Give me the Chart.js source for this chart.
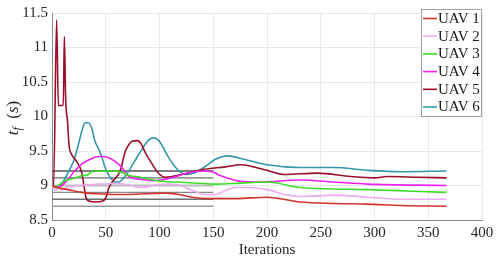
<!DOCTYPE html>
<html>
<head>
<meta charset="utf-8">
<script src="https://cdn.jsdelivr.net/npm/chart.js@4/dist/chart.umd.min.js"></script>
<style>
  html, body { margin: 0; padding: 0; background: #fff; }
  canvas { display: block; }
</style>
</head>
<body>
<canvas id="myChart" width="502" height="262"></canvas>
<script>
// data
const seriesNames = ["UAV 1", "UAV 2", "UAV 3", "UAV 4", "UAV 5", "UAV 6"];

const uav1X = [0, 2.8, 15, 27.6, 43, 58.7, 71, 87, 105.6, 118, 130.5, 146, 171, 200, 231, 262.5, 293.5, 324.6, 367];
const uav1Y = [9.0, 8.98, 8.94, 8.90, 8.88, 8.87, 8.87, 8.88, 8.89, 8.87, 8.83, 8.81, 8.81, 8.83, 8.76, 8.74, 8.73, 8.71, 8.70];

const uav2X = [0, 3, 6, 9, 15, 27.6, 43, 58.7, 71, 82, 97.9, 108.7, 119.6, 130.5, 143, 152, 163, 171, 181.7, 200, 219, 231, 262.5, 293.5, 324.6, 367];
const uav2Y = [9.0, 8.93, 8.97, 8.94, 8.98, 9.0, 9.02, 9.03, 9.01, 8.97, 9.01, 9.02, 9.0, 8.93, 8.87, 8.87, 8.94, 8.97, 8.97, 8.94, 8.86, 8.84, 8.86, 8.83, 8.80, 8.80];

const uav3X = [0, 2.8, 12, 21, 27.6, 33.8, 37, 46, 55.6, 65, 71, 82.3, 97.9, 129, 150, 169, 200, 231, 262, 293.5, 367];
const uav3Y = [9.0, 8.98, 9.07, 9.11, 9.14, 9.16, 9.2, 9.21, 9.21, 9.19, 9.15, 9.12, 9.07, 9.04, 9.02, 9.03, 9.05, 8.97, 8.95, 8.94, 8.90];

const uav4X = [0, 2.8, 9, 15, 21, 27.6, 35.4, 43, 48, 55.6, 61.8, 66.4, 70, 82.3, 94.7, 113, 125.8, 140, 149, 157, 175.5, 194, 231, 262.5, 293.5, 367];
const uav4Y = [9.0, 8.97, 9.0, 9.09, 9.21, 9.31, 9.38, 9.42, 9.42, 9.38, 9.31, 9.24, 9.15, 9.09, 9.07, 9.12, 9.18, 9.21, 9.20, 9.14, 9.06, 9.05, 9.08, 9.05, 9.02, 9.0];

const uav5X = [0, 1.5, 4.3, 5.9, 10.5, 11.5, 12.7, 14.5, 15.8, 18.3, 21.4, 24.5, 27.6, 29, 30.7, 32, 35.4, 40, 47.8, 51, 52.5, 57, 63.4, 68.3, 71.4, 74.5, 79.2, 82.3, 87, 93.2, 99.4, 105.6, 111.8, 124, 139.8, 161.5, 175.5, 185, 200, 216, 247, 278, 300, 312, 340, 367];
const uav5Y = [9.0, 9.0, 11.4, 10.16, 10.16, 11.16, 10.26, 9.92, 9.59, 9.45, 9.38, 9.31, 9.19, 9.07, 8.90, 8.81, 8.77, 8.76, 8.78, 8.86, 8.95, 9.07, 9.21, 9.5, 9.59, 9.64, 9.65, 9.62, 9.47, 9.31, 9.17, 9.12, 9.13, 9.17, 9.23, 9.27, 9.30, 9.28, 9.22, 9.16, 9.18, 9.13, 9.11, 9.13, 9.12, 9.11];

const uav6X = [0, 4.3, 9, 15, 20, 24.5, 27.6, 30.7, 33.8, 37, 40, 43, 46, 49.4, 54, 58.7, 62, 68.3, 80.7, 90, 94.7, 99.4, 108.7, 118, 125.8, 133.5, 143, 152, 163, 178.6, 200, 231, 262, 293.5, 324.6, 367];
const uav6Y = [9.0, 8.98, 9.02, 9.19, 9.35, 9.59, 9.78, 9.91, 9.91, 9.83, 9.64, 9.54, 9.43, 9.26, 9.12, 9.05, 9.05, 9.14, 9.45, 9.66, 9.69, 9.65, 9.40, 9.21, 9.16, 9.19, 9.28, 9.38, 9.43, 9.38, 9.30, 9.26, 9.26, 9.22, 9.20, 9.21];

// reference levels (gray lines)
const refX = [0, 150];
const refLevels = [9.21, 9.11, 9.0, 8.9, 8.8, 8.7];

const xTicks = [0, 50, 100, 150, 200, 250, 300, 350, 400];
const yTicks = [8.5, 9, 9.5, 10, 10.5, 11, 11.5];

const seriesX = [uav1X, uav2X, uav3X, uav4X, uav5X, uav6X];
const seriesY = [uav1Y, uav2Y, uav3Y, uav4Y, uav5Y, uav6Y];
const colors = ["#d0352c", "#eeaaf0", "#3ddc2a", "#ee22ee", "#9a0f2a", "#3596aa"];
const refColors = ["#555555", "#6f6f6f", "#bbbbbb", "#8a8a8a", "#707070", "#999999"];

const FONT = "'Liberation Serif', 'DejaVu Serif', serif";

const datasets = [];
seriesNames.forEach((name, i) => {
  datasets.push({
    label: name,
    data: seriesX[i].map((x, k) => ({ x: x, y: seriesY[i][k] })),
    borderColor: colors[i],
    borderWidth: 1.6,
    pointRadius: 0,
    cubicInterpolationMode: "monotone",
    fill: false
  });
});
refLevels.forEach((v, i) => {
  datasets.push({
    label: "ref" + i,
    data: refX.map(x => ({ x: x, y: v })),
    borderColor: refColors[i],
    borderWidth: i === 2 ? 2 : 1.4,
    pointRadius: 0,
    fill: false,
    order: 10
  });
});

// y title t_f (s) with subscript, drawn as text
const yTitlePlugin = {
  id: "yTitle",
  afterDraw(chart) {
    const ctx = chart.ctx;
    ctx.save();
    ctx.translate(14, 118);
    ctx.rotate(-Math.PI / 2);
    ctx.fillStyle = "#262626";
    ctx.textBaseline = "middle";
    const parts = [
      { t: "t", f: "italic 17px " + FONT, dy: 0 },
      { t: "f", f: "italic 12px " + FONT, dy: 4 },
      { t: "  (", f: "17px " + FONT, dy: 0 },
      { t: "s", f: "italic 17px " + FONT, dy: 0 },
      { t: ")", f: "17px " + FONT, dy: 0 }
    ];
    let w = 0;
    parts.forEach(p => { ctx.font = p.f; w += ctx.measureText(p.t).width; });
    let x = -w / 2;
    parts.forEach(p => {
      ctx.font = p.f;
      ctx.textAlign = "left";
      ctx.fillText(p.t, x, p.dy);
      x += ctx.measureText(p.t).width;
    });
    ctx.restore();
  }
};

// legend box inside the plot, top right
const boxLegendPlugin = {
  id: "boxLegend",
  afterDraw(chart) {
    const ctx = chart.ctx;
    const left = 421.5, top = 9.5, right = 481.5, bottom = 116.5;
    ctx.save();
    ctx.fillStyle = "#ffffff";
    ctx.fillRect(left, top, right - left, bottom - top);
    ctx.strokeStyle = "#a0a0a0";
    ctx.lineWidth = 1;
    ctx.strokeRect(left, top, right - left, bottom - top);
    ctx.font = "15px " + FONT;
    ctx.textBaseline = "middle";
    ctx.textAlign = "left";
    seriesNames.forEach((name, i) => {
      const y = 18.5 + i * 17.7;
      ctx.strokeStyle = colors[i];
      ctx.lineWidth = 1.6;
      ctx.beginPath();
      ctx.moveTo(423, y);
      ctx.lineTo(437, y);
      ctx.stroke();
      ctx.fillStyle = "#1a1a1a";
      ctx.fillText(name, 438, y + 0.5);
    });
    ctx.restore();
  }
};

new Chart(document.getElementById("myChart").getContext("2d"), {
  type: "line",
  data: { datasets: datasets },
  options: {
    responsive: false,
    animation: false,
    layout: { padding: { top: 9, right: 20, left: 0, bottom: 0 } },
    plugins: {
      legend: { display: false },
      tooltip: { enabled: false }
    },
    scales: {
      x: {
        type: "linear",
        min: 0,
        max: 400,
        afterBuildTicks: s => { s.ticks = xTicks.map(v => ({ value: v })); },
        afterFit: s => { s.height = 42; },
        ticks: { color: "#262626", font: { family: FONT, size: 15 }, padding: 4, maxRotation: 0 },
        grid: { color: "#e4ebee", drawTicks: false },
        border: { color: "#8a8a8a" },
        title: { display: true, text: "Iterations", color: "#262626", font: { family: FONT, size: 15 }, padding: { top: 0, bottom: 3 } }
      },
      y: {
        min: 8.5,
        max: 11.5,
        afterBuildTicks: s => { s.ticks = yTicks.map(v => ({ value: v })); },
        afterFit: s => { s.width = 52; },
        ticks: { color: "#262626", font: { family: FONT, size: 15 }, padding: 4, callback: v => String(v) },
        grid: { color: "#e4ebee", drawTicks: false },
        border: { color: "#8a8a8a" }
      }
    }
  },
  plugins: [yTitlePlugin, boxLegendPlugin]
});
</script>
</body>
</html>
